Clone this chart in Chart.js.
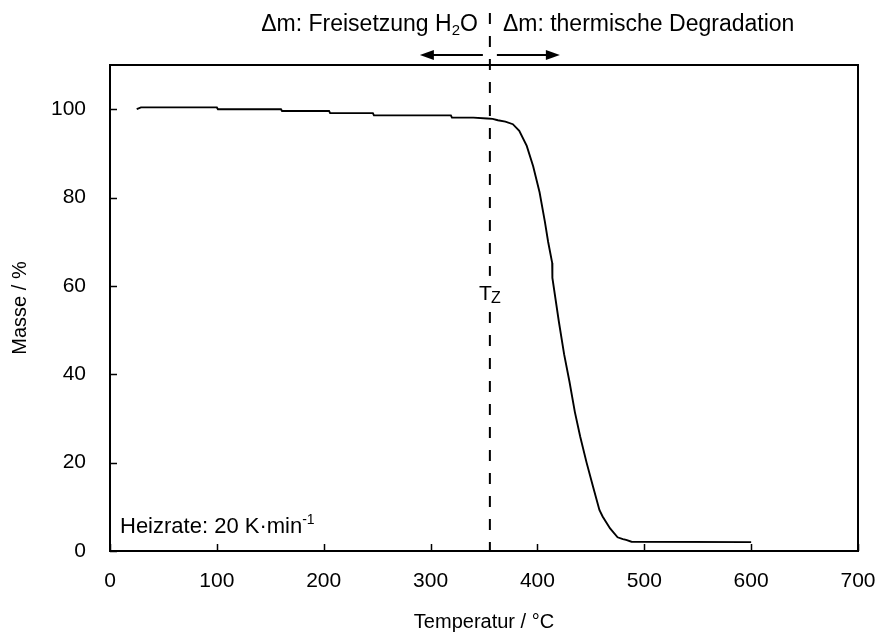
<!DOCTYPE html>
<html>
<head>
<meta charset="utf-8">
<script src="https://cdn.jsdelivr.net/npm/chart.js@4.4.1/dist/chart.umd.min.js"></script>
<style>
  html, body { margin: 0; padding: 0; background: #fff; }
  #wrap { width: 879px; height: 637px; }
</style>
</head>
<body>
<div id="wrap"><canvas id="myChart" width="879" height="637"></canvas></div>
<script>
// TGA curve
var temps = [25, 29, 100, 101, 160, 161, 205, 206, 246, 247, 319, 320, 340, 353, 358, 363, 370, 377, 383, 390, 396, 402, 407, 410, 413.8, 414, 420, 425, 430, 435, 440, 446, 452, 458, 461, 468, 475, 480, 483, 488, 600];
var mass = [100.0, 100.4, 100.4, 100.0, 100.0, 99.6, 99.6, 99.1, 99.1, 98.6, 98.6, 98.1, 98.1, 97.9, 97.8, 97.5, 97.2, 96.6, 95.1, 91.7, 87.1, 81.2, 74.5, 70.0, 65.2, 61.8, 52.0, 44.5, 38.3, 31.5, 25.9, 20.0, 14.6, 9.3, 7.8, 5.1, 3.1, 2.7, 2.5, 2.1, 2.0];

var xTicks = [0, 100, 200, 300, 400, 500, 600, 700];
var yTicks = [0, 20, 40, 60, 80, 100];
var tZ = 355.5;   // decomposition onset, dashed line

var FONT = "'Liberation Sans', Arial, sans-serif";
var FS = 21;      // tick labels
var FT = 20;      // axis titles
var FC = 23;      // captions on top
var FH = 22;      // Heizrate

var points = [];
for (var i = 0; i < temps.length; i++) {
    points.push({ x: temps[i], y: mass[i] });
}

// frame, inward ticks and the annotations
var extras = {
    id: 'extras',
    afterDraw: function (chart) {
        var ctx = chart.ctx, a = chart.chartArea;
        var sx = chart.scales.x, sy = chart.scales.y;
        ctx.save();
        ctx.strokeStyle = '#000';
        ctx.fillStyle = '#000';

        // ticks pointing into the plot
        ctx.lineWidth = 1.5;
        ctx.beginPath();
        xTicks.forEach(function (v) {
            var px = Math.round(sx.getPixelForValue(v)) + 0.5;
            ctx.moveTo(px, a.bottom);
            ctx.lineTo(px, a.bottom - 7);
        });
        yTicks.forEach(function (v) {
            var py = Math.round(sy.getPixelForValue(v)) + 0.5;
            ctx.moveTo(a.left, py);
            ctx.lineTo(a.left + 7, py);
        });
        ctx.stroke();

        // box
        ctx.lineWidth = 2;
        ctx.strokeRect(a.left, a.top, a.right - a.left, a.bottom - a.top);

        // dashed T_Z line
        var xz = sx.getPixelForValue(tZ);
        var labelY = sy.getPixelForValue(60);
        ctx.lineWidth = 2;
        ctx.setLineDash([11, 12]);
        ctx.beginPath();
        ctx.moveTo(xz, 13);
        ctx.lineTo(xz, a.bottom);
        ctx.stroke();
        ctx.setLineDash([]);

        // label T_Z with white behind it
        ctx.fillStyle = '#fff';
        ctx.fillRect(xz - 12, labelY - 10, 26, 36);
        ctx.fillStyle = '#000';
        ctx.font = FS + 'px ' + FONT;
        ctx.textBaseline = 'alphabetic';
        ctx.textAlign = 'left';
        ctx.fillText('T', xz - 11, labelY + 14);
        ctx.font = '16px ' + FONT;
        ctx.fillText('Z', xz + 1, labelY + 17);

        // top captions
        var base = 31;
        ctx.font = FC + 'px ' + FONT;
        var w1 = ctx.measureText('Δm: Freisetzung H').width;
        ctx.font = '15px ' + FONT;
        var w2 = ctx.measureText('2').width;
        ctx.font = FC + 'px ' + FONT;
        var w3 = ctx.measureText('O').width;
        var x0 = xz - 12 - (w1 + w2 + w3);
        ctx.fillText('Δm: Freisetzung H', x0, base);
        ctx.font = '15px ' + FONT;
        ctx.fillText('2', x0 + w1, base + 4);
        ctx.font = FC + 'px ' + FONT;
        ctx.fillText('O', x0 + w1 + w2, base);
        ctx.fillText('Δm: thermische Degradation', xz + 13, base);

        // arrows
        function arrow(x1, x2, y) {
            var dir = x2 > x1 ? 1 : -1;
            ctx.lineWidth = 2;
            ctx.beginPath();
            ctx.moveTo(x1, y);
            ctx.lineTo(x2 - dir * 10, y);
            ctx.stroke();
            ctx.beginPath();
            ctx.moveTo(x2, y);
            ctx.lineTo(x2 - dir * 14, y - 5);
            ctx.lineTo(x2 - dir * 14, y + 5);
            ctx.closePath();
            ctx.fill();
        }
        arrow(xz - 7, xz - 70, 55);
        arrow(xz + 7, xz + 70, 55);

        // Heizrate
        ctx.font = FH + 'px ' + FONT;
        var hx = a.left + 10, hy = a.bottom - 18;
        var t1 = 'Heizrate: 20 K·min';
        ctx.fillText(t1, hx, hy);
        var tw = ctx.measureText(t1).width;
        ctx.font = '14px ' + FONT;
        ctx.fillText('-1', hx + tw, hy - 9);

        ctx.restore();
    }
};

var config = {
    type: 'line',
    data: {
        datasets: [{
            data: points,
            borderColor: '#000',
            borderWidth: 1.9,
            pointRadius: 0,
            tension: 0,
            fill: false
        }]
    },
    options: {
        responsive: false,
        animation: false,
        layout: { padding: { top: 65, right: 21, left: 0, bottom: 0 } },
        plugins: {
            legend: { display: false },
            tooltip: { enabled: false }
        },
        scales: {
            x: {
                type: 'linear',
                min: 0,
                max: 700,
                afterBuildTicks: function (s) { s.ticks = xTicks.map(function (v) { return { value: v }; }); },
                afterFit: function (s) { s.height = 86; s.paddingLeft = 0; s.paddingRight = 0; },
                grid: { display: false },
                border: { display: false },
                ticks: { color: '#000', font: { family: FONT, size: FS }, padding: 10, maxRotation: 0 },
                title: {
                    display: true,
                    text: 'Temperatur / °C',
                    color: '#000',
                    font: { family: FONT, size: FT },
                    padding: { top: 0, bottom: 3 }
                }
            },
            y: {
                type: 'linear',
                min: 0,
                max: 110,
                afterBuildTicks: function (s) { s.ticks = yTicks.map(function (v) { return { value: v }; }); },
                afterFit: function (s) { s.width = 110; s.paddingTop = 0; s.paddingBottom = 0; },
                grid: { display: false },
                border: { display: false },
                ticks: { color: '#000', font: { family: FONT, size: FS }, padding: 16 },
                title: {
                    display: true,
                    text: 'Masse / %',
                    color: '#000',
                    font: { family: FONT, size: FT },
                    padding: { top: 8, bottom: 0 }
                }
            }
        }
    },
    plugins: [extras]
};

const myChart = new Chart(document.getElementById('myChart'), config);
</script>
</body>
</html>
